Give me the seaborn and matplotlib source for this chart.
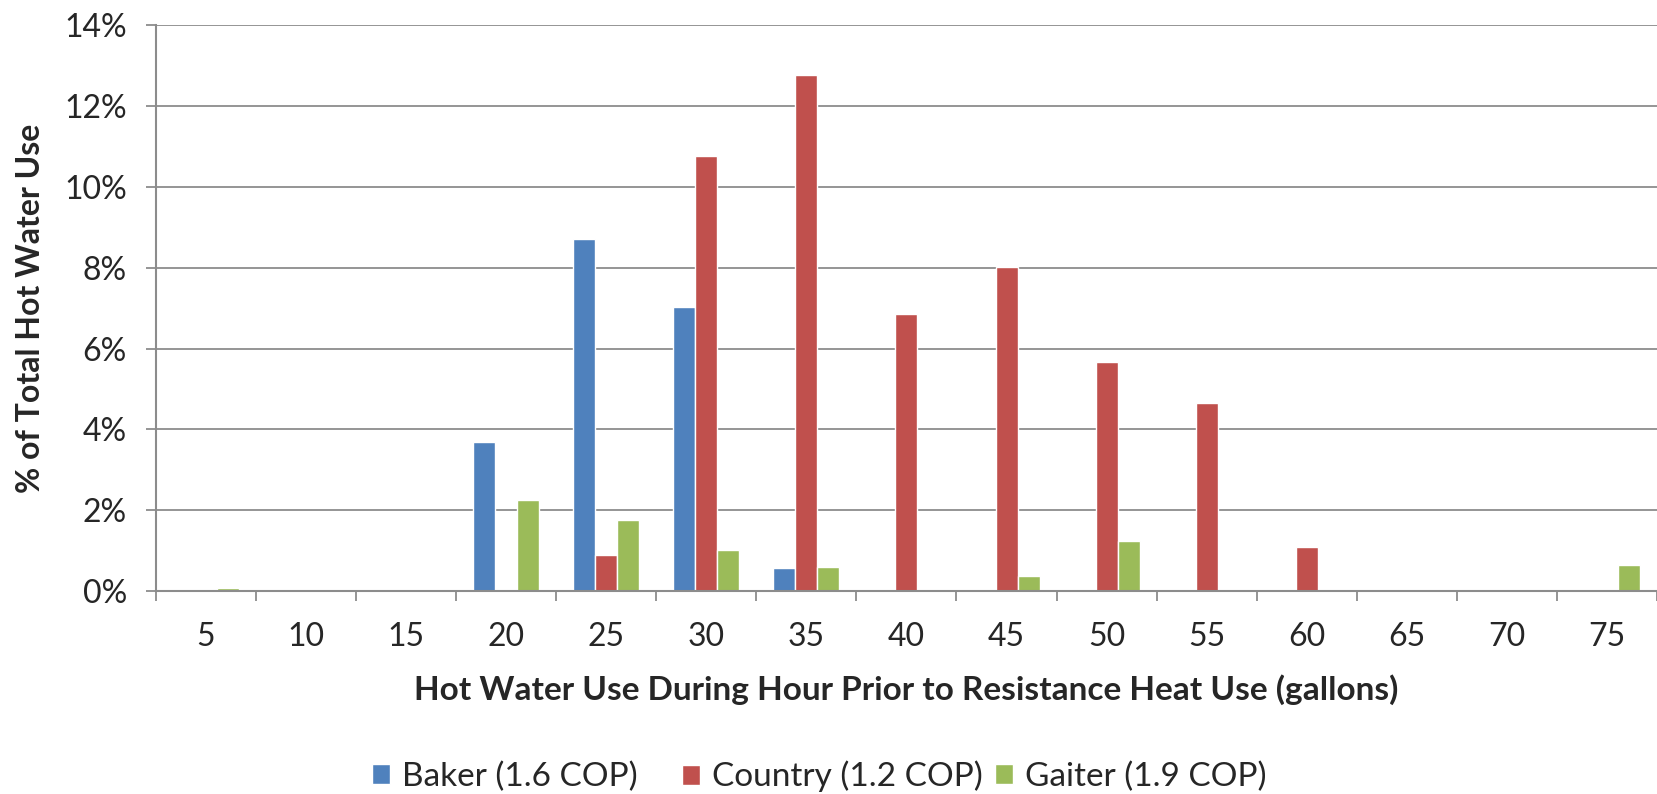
import matplotlib
matplotlib.use("Agg")
import matplotlib.pyplot as plt
import seaborn as sns
import pandas as pd
from matplotlib.ticker import FuncFormatter, FixedLocator

gallons = [5, 10, 15, 20, 25, 30, 35, 40, 45, 50, 55, 60, 65, 70, 75]
baker = [0.0, 0, 0, 3.70, 8.71, 7.04, 0.57, 0, 0, 0, 0, 0, 0, 0, 0]
country = [0.03, 0, 0, 0, 0.89, 10.76, 12.78, 6.86, 8.03, 5.66, 4.65, 1.10, 0, 0, 0]
gaiter = [0.08, 0, 0, 2.25, 1.75, 1.02, 0.60, 0, 0.37, 1.24, 0, 0, 0, 0, 0.65]
series_names = ["Baker (1.6 COP)", "Country (1.2 COP)", "Gaiter (1.9 COP)"]
colors = ["#4F81BD", "#C0504D", "#9BBB59"]

rows = []
for name, vals in zip(series_names, [baker, country, gaiter]):
    for g, v in zip(gallons, vals):
        rows.append({"gallons": str(g), "share": v, "site": name})
df = pd.DataFrame(rows)

sns.set_theme(style="white")
plt.rcParams["font.family"] = ["Lato", "DejaVu Sans"]

fig = plt.figure(figsize=(16.57, 7.94), dpi=100)
ax = fig.add_axes([0.0941, 0.2557, 0.9059, 0.7123])

sns.barplot(data=df, x="gallons", y="share", hue="site", palette=colors,
            width=0.66, gap=0, saturation=1, ax=ax, legend=True,
            order=[str(g) for g in gallons], hue_order=series_names)

ax.set_ylim(0, 14)
ax.set_xlim(-0.5, len(gallons) - 0.5)
ax.set_yticks(range(0, 15, 2))
ax.yaxis.set_major_formatter(FuncFormatter(lambda v, p: f"{int(v)}%"))
ax.grid(axis="y", color="#8c8c8c", linewidth=1.3)
ax.set_axisbelow(True)

for s in ["top", "right"]:
    ax.spines[s].set_visible(False)
for s in ["left", "bottom"]:
    ax.spines[s].set_color("#8c8c8c")
    ax.spines[s].set_linewidth(1.5)

ax.tick_params(axis="y", which="major", length=7, width=1.3, color="#8c8c8c",
               labelsize=23, pad=14, left=True)
ax.tick_params(axis="x", which="major", length=0, labelsize=23, pad=22)
ax.xaxis.set_minor_locator(FixedLocator([i - 0.5 for i in range(len(gallons) + 1)]))
ax.tick_params(axis="x", which="minor", length=7, width=1.3, color="#8c8c8c", bottom=True)

ax.set_xlabel("Hot Water Use During Hour Prior to Resistance Heat Use (gallons)",
              fontsize=24, fontweight="bold", labelpad=16)
ax.set_ylabel("% of Total Hot Water Use", fontsize=23, fontweight="bold", labelpad=14)

# Legend entries laid out in equal-width slots along the bottom
handles, labels = ax.get_legend_handles_labels()
ax.get_legend().remove()
slot_x = [0.2245, 0.4115, 0.6005]
for h, lab, x in zip(handles, labels, slot_x):
    fig.legend([h], [lab], loc="center left", bbox_to_anchor=(x, 0.022),
               frameon=False, fontsize=24, handlelength=0.55, handleheight=0.55,
               handletextpad=0.35, borderpad=0, borderaxespad=0)

fig.savefig("out.png", dpi=100)
